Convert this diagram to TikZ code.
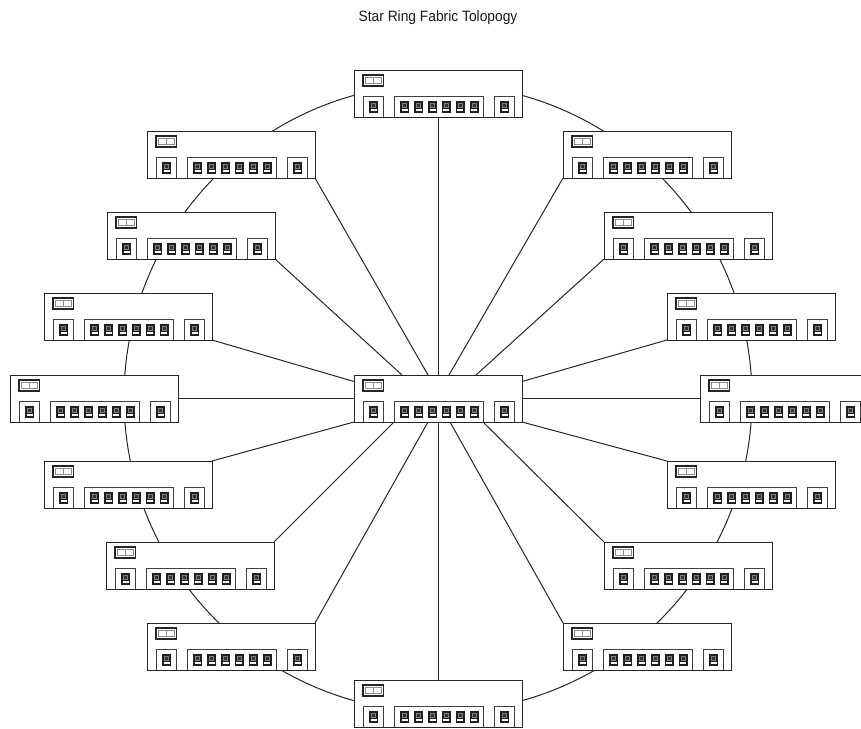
\documentclass[tikz,border=0pt]{standalone}
\usepackage{fontspec}
\setmainfont[FakeStretch=0.92]{Liberation Sans}
\tikzset{
  x=1pt,y=-1pt,
  swbox/.style={draw=black!85,fill=white,line width=.9pt,rectangle,inner sep=0pt,outer sep=0pt,minimum width=168pt,minimum height=47pt,anchor=north west},
  frm/.style={draw=black!75,line width=.9pt,fill=white},
  wire/.style={draw=black!85,line width=1pt},
  titletext/.style={font=\fontsize{15}{18}\selectfont,text=black!90,inner sep=0pt}
}
\newcommand{\portglyph}[1]{%
  \fill[black!88] (#1,30.5) rectangle ++(9,12);
  \fill[black!50] (#1+2,32.5) rectangle ++(5,5);
  \fill[black!80] (#1+3,33.5) rectangle ++(3,3);
  \fill[white] (#1+1.5,38.5) rectangle ++(6,2.2);
}
\newcommand{\swdetail}{%
  \draw[draw=black!85,line width=1.1pt,fill=white] (9,5) rectangle (29.5,16);
  \draw[draw=black!45,line width=.7pt] (11.5,7.3) rectangle (27,13.7) (19.3,7.3) -- (19.3,13.7);
  \draw[frm] (9,47) -- (9,26.7) -- (29.5,26.7) -- (29.5,47);
  \draw[frm] (40.7,47) -- (40.7,26.7) -- (129.3,26.7) -- (129.3,47);
  \draw[frm] (140.7,47) -- (140.7,26.7) -- (160.7,26.7) -- (160.7,47);
  \portglyph{15}
  \foreach \px in {46,60,74,87.6,101.6,115.6} {\portglyph{\px}}
  \portglyph{146}
}
\newcommand{\switch}[3]{%
  \node[swbox] (#1) at (#2,#3) {};
  \begin{scope}[shift={(#2,#3)}]\swdetail\end{scope}
}
\begin{document}
\begin{tikzpicture}
\useasboundingbox (0,0) rectangle (861,728);
\node[titletext] (title) at (438,17.5) {Star Ring Fabric Tolopogy};
\coordinate (ringc) at (438,398);
\draw[wire] (ringc) circle (314pt);
\switch{top}{354}{70}
\switch{r1}{563}{131}
\switch{r2}{604}{212}
\switch{r3}{667}{293}
\switch{r4}{700}{375}
\switch{r5}{667}{461}
\switch{r6}{604}{542}
\switch{r7}{563}{623}
\switch{bot}{354}{680}
\switch{l1}{147}{131}
\switch{l2}{107}{212}
\switch{l3}{44}{293}
\switch{l4}{10}{375}
\switch{l5}{44}{461}
\switch{l6}{106}{542}
\switch{l7}{147}{623}
\switch{hub}{354}{375}
\draw[wire] (top.south) -- (hub.north);
\draw[wire] (bot.north) -- (hub.south);
\draw[wire] (l1.south east) -- ([xshift=-10pt]hub.north);
\draw[wire] (l2.south east) -- ([xshift=-36pt]hub.north);
\draw[wire] (r1.south west) -- ([xshift=11pt]hub.north);
\draw[wire] (r2.south west) -- ([xshift=38pt]hub.north);
\draw[wire] (l3.south east) -- ([yshift=17pt]hub.west);
\draw[wire] (r3.south west) -- ([yshift=17pt]hub.east);
\draw[wire] (l4.east) -- (hub.west);
\draw[wire] (r4.west) -- (hub.east);
\draw[wire] (l5.north east) -- (hub.south west);
\draw[wire] (r5.north west) -- (hub.south east);
\draw[wire] (l6.north east) -- ([xshift=-44pt]hub.south);
\draw[wire] (r6.north west) -- ([xshift=45pt]hub.south);
\draw[wire] (l7.north east) -- ([xshift=-10pt]hub.south);
\draw[wire] (r7.north west) -- ([xshift=12pt]hub.south);
\end{tikzpicture}
\end{document}
